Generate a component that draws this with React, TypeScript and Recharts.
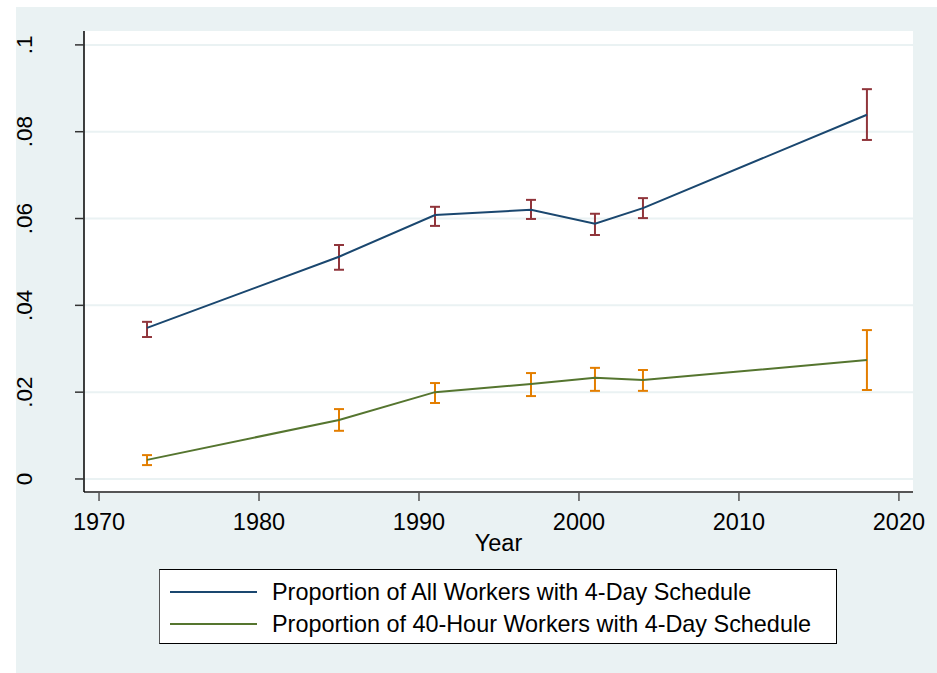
import React from "react";
import { LineChart, Line, XAxis, YAxis, CartesianGrid, ErrorBar } from "recharts";

const years = [1973, 1985, 1991, 1997, 2001, 2004, 2018];
const allWorkers = [0.0348, 0.0512, 0.0608, 0.062, 0.0588, 0.0624, 0.0839];
const allLow = [0.0327, 0.0482, 0.0583, 0.0599, 0.0562, 0.0601, 0.0781];
const allHigh = [0.0362, 0.0539, 0.0627, 0.0643, 0.0611, 0.0647, 0.0898];
const fortyHour = [0.0044, 0.0136, 0.02, 0.0219, 0.0233, 0.0228, 0.0274];
const fortyLow = [0.0032, 0.0111, 0.0175, 0.0191, 0.0203, 0.0203, 0.0205];
const fortyHigh = [0.0055, 0.0161, 0.0221, 0.0244, 0.0256, 0.0251, 0.0343];

const xTicks = [1970, 1980, 1990, 2000, 2010, 2020];
const yTicks = [0, 0.02, 0.04, 0.06, 0.08, 0.1];
const yTickLabels = ["0", ".02", ".04", ".06", ".08", ".1"];
const seriesNames = [
  "Proportion of All Workers with 4-Day Schedule",
  "Proportion of 40-Hour Workers with 4-Day Schedule",
];
const xLabel = "Year";

const BG = "#EAF2F3";
const NAVY = "#1A476F";
const GREEN = "#55752F";
const MAROON = "#90353B";
const ORANGE = "#E37E00";
const FONT = "'Liberation Sans', Arial, sans-serif";

const data = years.map((year, i) => ({
  year,
  all: allWorkers[i],
  allErr: [allWorkers[i] - allLow[i], allHigh[i] - allWorkers[i]],
  forty: fortyHour[i],
  fortyErr: [fortyHour[i] - fortyLow[i], fortyHigh[i] - fortyHour[i]],
}));

const XTick = (props: any) => {
  const { x, y, payload } = props;
  return (
    <text x={x} y={y + 27} textAnchor="middle" fontSize={23.5} fontFamily={FONT} fill="#000">
      {payload.value}
    </text>
  );
};

const YTick = (props: any) => {
  const { x, y, payload } = props;
  const idx = yTicks.findIndex((t) => Math.abs(t - payload.value) < 1e-9);
  const label = idx >= 0 ? yTickLabels[idx] : String(payload.value);
  const bx = x - 41;
  return (
    <text
      x={bx}
      y={y}
      transform={`rotate(-90, ${bx}, ${y})`}
      textAnchor="middle"
      fontSize={22.5}
      fontFamily={FONT}
      fill="#000"
    >
      {label}
    </text>
  );
};

const XAxisLabel = (props: any) => {
  const vb = props.viewBox || {};
  return (
    <text
      x={vb.x + vb.width / 2}
      y={vb.y + 59}
      textAnchor="middle"
      fontSize={23.5}
      fontFamily={FONT}
      fill="#000"
    >
      {xLabel}
    </text>
  );
};

export default function App() {
  return (
    <div style={{ position: "absolute", left: 0, top: 0, width: 937, height: 673, background: "#fff", overflow: "hidden" }}>
      <div style={{ position: "absolute", left: 16, top: 7, width: 921, height: 666, background: BG }} />
      <div style={{ position: "absolute", left: 0, top: 0 }}>
        <LineChart width={937} height={673} data={data} margin={{ top: 31, right: 24, bottom: 111, left: 24 }}>
          <CartesianGrid vertical={false} fill="#fff" stroke={BG} strokeWidth={2} horizontalValues={yTicks} />
          <XAxis
            dataKey="year"
            type="number"
            domain={[1969.06, 2020.88]}
            ticks={xTicks}
            allowDataOverflow
            height={70}
            tickSize={9}
            tickMargin={2}
            tick={<XTick />}
            axisLine={{ stroke: "#555", strokeWidth: 2 }}
            tickLine={{ stroke: "#555", strokeWidth: 1.5 }}
            label={<XAxisLabel />}
          />
          <YAxis
            type="number"
            domain={[-0.003, 0.1032]}
            ticks={yTicks}
            allowDataOverflow
            width={60}
            tickSize={9}
            tickMargin={2}
            tick={<YTick />}
            axisLine={{ stroke: "#000", strokeWidth: 1.5 }}
            tickLine={{ stroke: "#333", strokeWidth: 1.5 }}
          />
          <Line dataKey="all" stroke={NAVY} strokeWidth={2} dot={false} isAnimationActive={false}>
            <ErrorBar dataKey="allErr" direction="y" width={5} stroke={MAROON} strokeWidth={2} />
          </Line>
          <Line dataKey="forty" stroke={GREEN} strokeWidth={2} dot={false} isAnimationActive={false}>
            <ErrorBar dataKey="fortyErr" direction="y" width={5} stroke={ORANGE} strokeWidth={2} />
          </Line>
        </LineChart>
      </div>
      <div
        style={{
          position: "absolute",
          left: 159,
          top: 569,
          width: 678,
          height: 75,
          boxSizing: "border-box",
          background: "#fff",
          border: "1px solid #000",
          borderLeftColor: "#555",
          fontFamily: FONT,
        }}
      >
        {seriesNames.map((name, i) => (
          <div key={name} style={{ position: "absolute", left: 0, top: i === 0 ? 7 : 39, height: 30, width: 676 }}>
            <div
              style={{
                position: "absolute",
                left: 10,
                top: 14,
                width: 87,
                height: 2,
                background: i === 0 ? NAVY : GREEN,
              }}
            />
            <div
              style={{
                position: "absolute",
                left: 112,
                top: 0,
                fontSize: 23.4,
                lineHeight: "30px",
                whiteSpace: "nowrap",
                color: "#000",
              }}
            >
              {name}
            </div>
          </div>
        ))}
      </div>
    </div>
  );
}
